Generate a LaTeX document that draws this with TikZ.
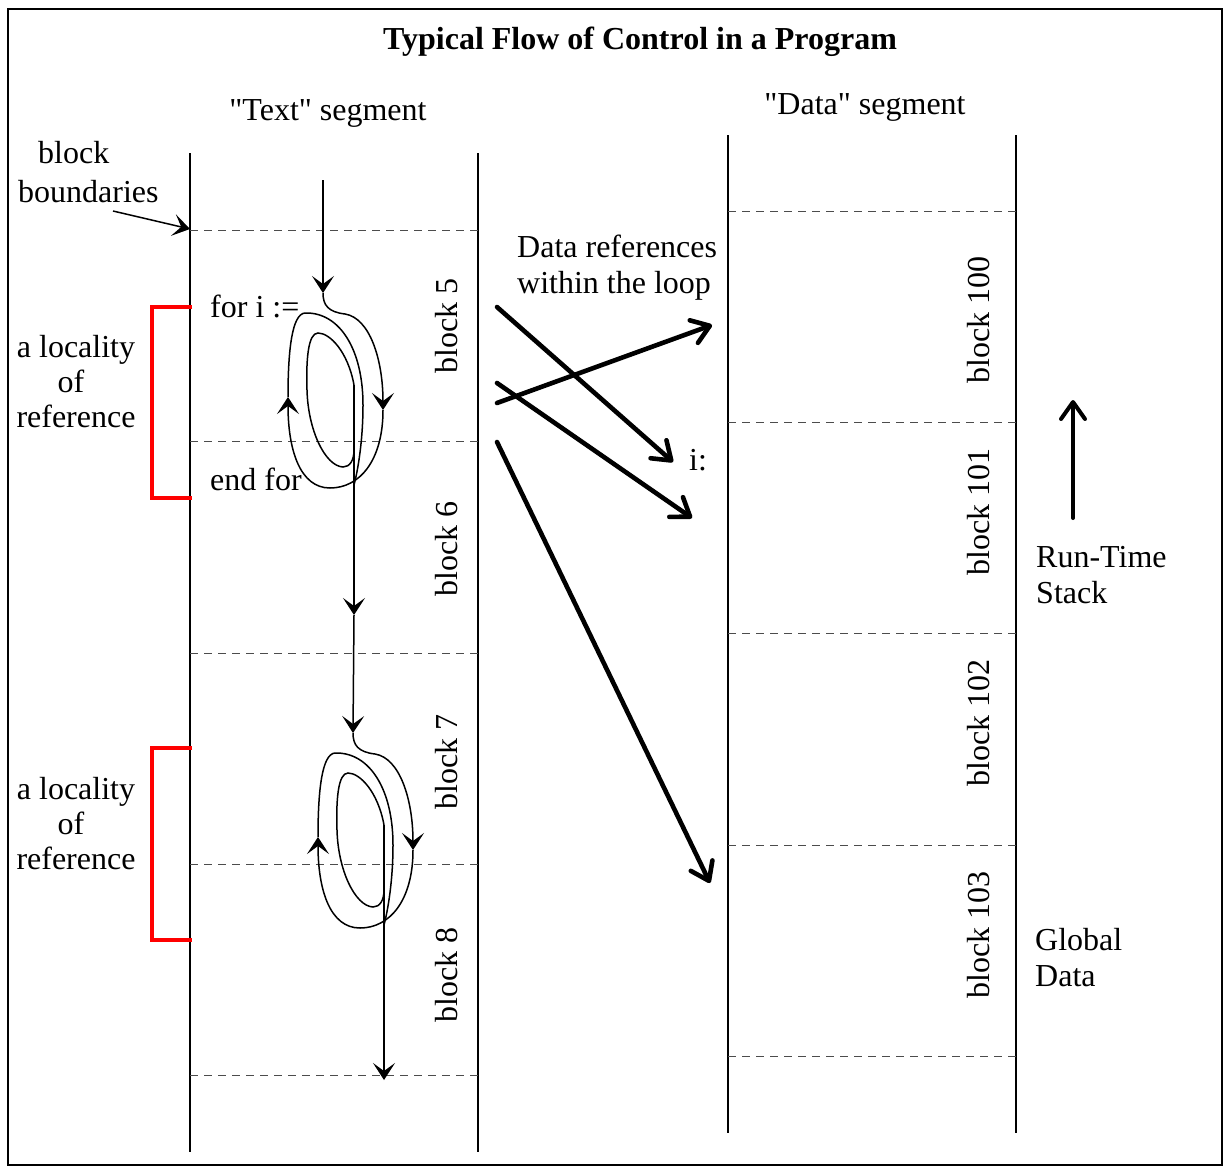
\documentclass[tikz,border=0pt]{standalone}
\usepackage{fontspec}
\setmainfont{Liberation Serif}[Ligatures=TeXOff]
\usetikzlibrary{arrows.meta}

% one loop of the control flow: outer turn, inner turn
\newcommand\spiralloop{%
  \draw[flow] (323,293) .. controls (323,305) and (328,312) .. (345,314)
        .. controls (370,318) and (383,360) .. (383,410);
  \draw[flow] (383,410) .. controls (383,460) and (360,488) .. (330,488)
        .. controls (300,488) and (288,450) .. (288,397);
  \draw[thinline] (288,397) .. controls (288,350) and (292,314) .. (305,313)
        .. controls (340,312) and (363,350) .. (363,405)
        .. controls (363,440) and (358,470) .. (354,485);
  \draw[thinline] (354,385) .. controls (348,352) and (330,333) .. (318,333)
        .. controls (308,333) and (306,360) .. (307,390)
        .. controls (308,430) and (325,466) .. (343,467)
        .. controls (350,467) and (354,460) .. (354,450);
}

\begin{document}
\begin{tikzpicture}[x=1pt,y=-1pt,
  txt/.style={font=\fontsize{32}{37}\selectfont, inner sep=0pt},
  seg/.style={line width=1.4pt},
  bound/.style={line width=0.9pt, black!70, dash pattern=on 8pt off 6pt},
  thinline/.style={line width=1.5pt},
  thintip/.style={-{Stealth[length=17pt,width=22pt,inset=8pt]}},
  flow/.style={thinline, thintip},
  ref/.style={line width=4.6pt, line cap=round,
    -{Straight Barb[length=17pt,width=24pt,line cap=round,line join=round]}},
  bracket/.style={red, line width=4pt, line join=miter},
  blk/.style={txt, rotate=90, anchor=base}
]
\useasboundingbox (0,0) rectangle (1225,1167);
\draw[line width=2.5pt] (8,9) rectangle (1222,1165);

% title and segment headings
\node[txt, font=\fontsize{32}{37}\selectfont\bfseries, anchor=base] (title) at (640,49) {Typical Flow of Control in a Program};
\node[txt, anchor=base] (texthead) at (328,120) {"Text" segment};
\node[txt, anchor=base] (datahead) at (865,114) {"Data" segment};

% text segment
\draw[seg] (190,153) -- (190,1152);
\draw[seg] (478,153) -- (478,1152);
\foreach \y in {230,441,653,864,1075}
  \draw[bound] (190,\y) -- (478,\y);

% data segment
\draw[seg] (728,135) -- (728,1133);
\draw[seg] (1016,135) -- (1016,1133);
\foreach \y in {211,422,633,845,1056}
  \draw[bound] (728,\y) -- (1016,\y);

% block labels
\node[blk] (b5) at (457,326) {block 5};
\node[blk] (b6) at (457,549) {block 6};
\node[blk] (b7) at (457,762) {block 7};
\node[blk] (b8) at (457,975) {block 8};
\node[blk] (b100) at (989,320) {block 100};
\node[blk] (b101) at (989,512) {block 101};
\node[blk] (b102) at (989,723) {block 102};
\node[blk] (b103) at (989,935) {block 103};

% block boundaries note
\node[txt, anchor=base west] (bb1) at (38,163) {block};
\node[txt, anchor=base west] (bb2) at (18,202) {boundaries};
\coordinate (bbs) at (113,211);
\coordinate (bbe) at (190,229);
\draw[thinline, thintip] (bbs) -- (bbe);

% localities of reference
\draw[bracket] (192,307) -- (152,307) -- (152,498) -- (192,498);
\draw[bracket] (192,748) -- (152,748) -- (152,940) -- (192,940);
\node[txt, anchor=base] (l1a) at (76,357) {a locality};
\node[txt, anchor=base] (l1b) at (71,392) {of};
\node[txt, anchor=base] (l1c) at (76,427) {reference};
\node[txt, anchor=base] (l2a) at (76,799) {a locality};
\node[txt, anchor=base] (l2b) at (71,834) {of};
\node[txt, anchor=base] (l2c) at (76,869) {reference};

% loop text
\node[txt, anchor=base west] (fori) at (210,317) {for i :=};
\node[txt, anchor=base west] (endfor) at (210,490) {end for};

% flow of control
\draw[flow] (323,180) -- (323,293);
\spiralloop
\draw[flow] (354,385) -- (354,615);
\draw[flow] (354,615) -- (353,733);
\begin{scope}[shift={(30,440)}]
  \spiralloop
\end{scope}
\draw[flow] (384,825) -- (384,1080);

% data references
\node[txt, anchor=base west] (dr1) at (517,257) {Data references};
\node[txt, anchor=base west] (dr2) at (517,293) {within the loop};
\node[txt, anchor=base west] (ivar) at (689,470) {i:};
\coordinate (r1s) at (497,307);
\coordinate (r1e) at (673,462);
\coordinate (r2s) at (497,403);
\coordinate (r2e) at (712,325);
\coordinate (r3s) at (497,383);
\coordinate (r3e) at (692,518);
\coordinate (r4s) at (497,442);
\coordinate (r4e) at (710,883);
\draw[ref] (r1s) -- (r1e);
\draw[ref] (r2s) -- (r2e);
\draw[ref] (r3s) -- (r3e);
\draw[ref] (r4s) -- (r4e);

% stack direction and data areas
\coordinate (stk0) at (1073,518);
\coordinate (stk1) at (1073,400);
\draw[ref, line width=4pt] (stk0) -- (stk1);
\node[txt, anchor=base west] (rts1) at (1036,567) {Run-Time};
\node[txt, anchor=base west] (rts2) at (1036,603) {Stack};
\node[txt, anchor=base west] (gd1) at (1035,950) {Global};
\node[txt, anchor=base west] (gd2) at (1035,986) {Data};
\end{tikzpicture}
\end{document}
